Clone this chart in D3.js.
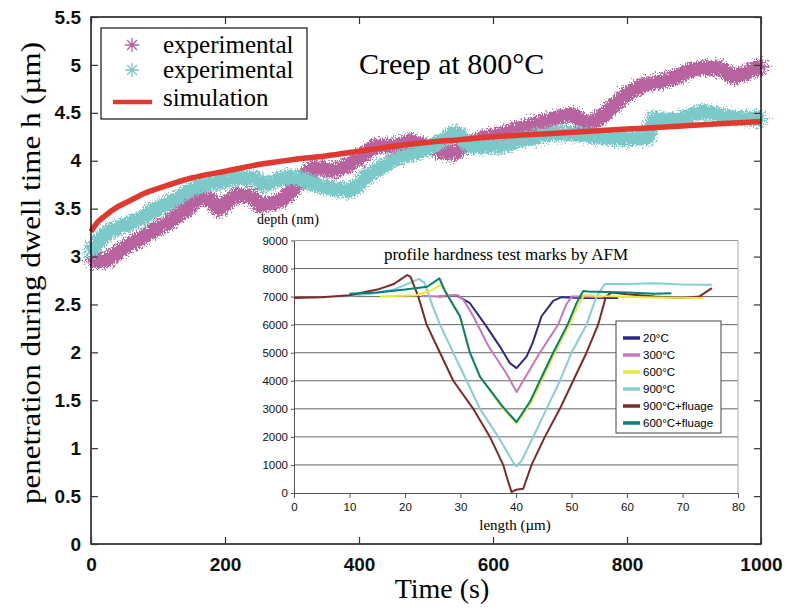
<!DOCTYPE html>
<html>
<head>
<meta charset="utf-8">
<script src="https://cdn.jsdelivr.net/npm/d3@7"></script>
<style>
  html, body { margin: 0; padding: 0; background: #fff; }
  svg { display: block; }
</style>
</head>
<body>
<svg id="chart" width="785" height="610"></svg>
<script>
// ── Main chart data (time s, penetration µm) ─────────────────────
const expMagenta = [
  [0, 2.96], [20, 2.96], [45, 3.07], [70, 3.17], [95, 3.28], [120, 3.38],
  [144, 3.50], [164, 3.61], [179, 3.59], [191, 3.50], [204, 3.57], [219, 3.64],
  [238, 3.63], [253, 3.54], [273, 3.56], [293, 3.64], [313, 3.80], [336, 3.93],
  [360, 3.90], [385, 3.96], [410, 4.08], [425, 4.15], [459, 4.16], [474, 4.20],
  [499, 4.15], [519, 4.11], [539, 4.08], [558, 4.15], [583, 4.23], [608, 4.27],
  [633, 4.32], [657, 4.37], [677, 4.41], [717, 4.48], [742, 4.39], [762, 4.46],
  [781, 4.58], [801, 4.70], [826, 4.79], [851, 4.83], [875, 4.88], [900, 4.95],
  [935, 4.97], [960, 4.88], [994, 4.97], [1000, 4.98]
];
const expCyan = [
  [0, 3.05], [21, 3.23], [45, 3.31], [70, 3.38], [95, 3.49], [120, 3.57],
  [144, 3.68], [169, 3.75], [194, 3.78], [219, 3.82], [243, 3.82], [258, 3.75],
  [293, 3.83], [318, 3.80], [340, 3.74], [360, 3.71], [385, 3.69], [410, 3.83],
  [435, 3.94], [459, 4.03], [484, 4.08], [509, 4.15], [534, 4.25], [544, 4.29],
  [568, 4.15], [608, 4.15], [633, 4.20], [667, 4.25], [702, 4.29], [752, 4.25],
  [801, 4.23], [831, 4.25], [840, 4.43], [875, 4.43], [915, 4.51], [950, 4.46],
  [994, 4.44], [1000, 4.44]
];
const simulation = [
  [0, 3.26], [10, 3.36], [20, 3.42], [40, 3.52], [60, 3.59], [80, 3.66],
  [100, 3.71], [150, 3.82], [200, 3.89], [250, 3.96], [300, 4.01], [350, 4.05],
  [400, 4.10], [450, 4.15], [500, 4.19], [550, 4.22], [600, 4.25], [650, 4.27],
  [700, 4.29], [750, 4.31], [800, 4.33], [850, 4.35], [900, 4.37], [950, 4.39],
  [1000, 4.41]
];
const mainXTicks = [0, 200, 400, 600, 800, 1000];
const mainYTicks = [0, 0.5, 1, 1.5, 2, 2.5, 3, 3.5, 4, 4.5, 5, 5.5];

// ── Inset data (length µm, depth nm) ─────────────────────────────
const prof20 = [
  [26, 7000], [29.3, 7040], [31.7, 6764], [34.7, 5931], [37.1, 5219], [38.9, 4628],
  [40.1, 4450], [41.9, 4863], [43, 5350], [44.6, 6300], [46.7, 6850], [48.2, 6980],
  [52, 6950], [58.4, 6950]
];
const prof300 = [
  [23, 7030], [26, 7000], [28, 7050], [29.6, 7040], [30.5, 6900], [32.3, 6300],
  [35, 5250], [38.3, 4250], [40.1, 3600], [41.3, 4000], [44.3, 5000], [47.6, 6000],
  [49, 6700], [50, 7000], [52, 7000], [55.7, 6980]
];
const prof600 = [
  [15.5, 7000], [22, 7050], [24.5, 7200], [26.5, 7420], [27.4, 7150], [29.9, 6300],
  [31.7, 5000], [33.5, 4150], [37.7, 3000], [40.1, 2480], [42.8, 3250], [44.6, 4000],
  [47, 5000], [49.6, 6000], [51.2, 6700], [52.3, 7050], [55, 7020], [65, 6970],
  [73.7, 6950]
];
const prof900 = [
  [8.5, 7000], [14, 7100], [18, 7250], [21, 7500], [22.5, 7630], [23.5, 7500],
  [25.1, 6600], [26.3, 6000], [28.7, 5000], [31.1, 4000], [33.5, 3000], [36.8, 2000],
  [38.6, 1400], [39.6, 1050], [40.1, 950], [41, 1150], [43.1, 2000], [45.5, 3000],
  [47.9, 4000], [50, 5000], [52.7, 6000], [54.5, 7000], [56, 7450], [60, 7450],
  [65, 7480], [70, 7430], [75.3, 7420]
];
const prof900f = [
  [0, 6950], [5, 6980], [10, 7050], [15, 7250], [18, 7450], [19.5, 7650],
  [20.4, 7770], [21, 7700], [22.4, 7000], [23.9, 6000], [26.3, 5000], [28.7, 4000],
  [32.3, 3000], [35.3, 2000], [37.7, 1000], [38.6, 400], [39.2, 30], [40, 120],
  [41.3, 150], [42.8, 1000], [45.2, 2000], [47.9, 3000], [50.3, 4000], [52.7, 5000],
  [54.8, 6000], [56.2, 7000], [57.2, 7150], [60, 7080], [65, 7000], [70, 6950],
  [73, 7000], [75.3, 7300]
];
const prof600f = [
  [10, 7100], [15, 7150], [20, 7250], [24, 7350], [26.2, 7650], [27.2, 7200],
  [29.9, 6300], [31.7, 5000], [33.5, 4150], [37.7, 3050], [40.1, 2530], [42.5, 3250],
  [44.3, 4000], [46.7, 5000], [49.3, 6000], [50.9, 6764], [52.1, 7200], [53, 7180],
  [60, 7150], [65, 7100], [68, 7120]
];
const insetXTicks = [0, 10, 20, 30, 40, 50, 60, 70, 80];
const insetYTicks = [0, 1000, 2000, 3000, 4000, 5000, 6000, 7000, 8000, 9000];

const insetSeries = [
  { label: '20°C', color: '#2b2a85', data: prof20 },
  { label: '300°C', color: '#c878b8', data: prof300 },
  { label: '600°C', color: '#ede832', data: prof600 },
  { label: '900°C', color: '#84cfd0', data: prof900 },
  { label: '900°C+fluage', color: '#7e2a28', data: prof900f },
  { label: '600°C+fluage', color: '#00817c', data: prof600f }
];
// draw order: yellow under teal
const insetDrawOrder = [0, 1, 3, 4, 2, 5];

const COLORS = { magenta: '#b864a0', cyan: '#7cc9c9', red: '#e0392f' };
const SERIF = "'Liberation Serif', 'Times New Roman', serif";
const SANS = "'Liberation Sans', Arial, sans-serif";
const NARROW = "'Liberation Sans Narrow', 'Liberation Sans', Arial, sans-serif";

const svg = d3.select('#chart');

// roughness filter for the noisy experimental bands
const defs = svg.append('defs');
const filt = defs.append('filter').attr('id', 'rough')
  .attr('filterUnits', 'userSpaceOnUse')
  .attr('x', 0).attr('y', 0).attr('width', 785).attr('height', 610);
filt.append('feTurbulence').attr('type', 'fractalNoise')
  .attr('baseFrequency', '1.1 0.5').attr('numOctaves', 2).attr('seed', 4).attr('result', 'n');
filt.append('feDisplacementMap').attr('in', 'SourceGraphic').attr('in2', 'n')
  .attr('scale', 13).attr('xChannelSelector', 'R').attr('yChannelSelector', 'G');

// asterisk marker path (8 rays)
function asterisk(r) {
  let p = '';
  for (let i = 0; i < 4; i++) {
    const a = i * Math.PI / 4;
    const dx = Math.cos(a) * r, dy = Math.sin(a) * r;
    p += `M${-dx},${-dy}L${dx},${dy}`;
  }
  return p;
}

// ── Main plot ───────────────────────────────────────────────────
const x = d3.scaleLinear().domain([0, 1000]).range([91, 761]);
const y = d3.scaleLinear().domain([0, 5.5]).range([544, 17]);

const line = d3.line().x(d => x(d[0])).y(d => y(d[1])).curve(d3.curveMonotoneX);

function drawBand(data, color) {
  const g = svg.append('g').attr('filter', 'url(#rough)');
  g.append('path').attr('d', line(data))
    .attr('fill', 'none').attr('stroke', color)
    .attr('stroke-width', 15).attr('stroke-linejoin', 'round').attr('stroke-linecap', 'butt');
  g.selectAll('path.mk').data(data).join('path').attr('class', 'mk')
    .attr('transform', d => `translate(${x(d[0])},${y(d[1])})`)
    .attr('d', asterisk(9))
    .attr('stroke', color).attr('stroke-width', 1.5).attr('fill', 'none');
}
drawBand(expMagenta, COLORS.magenta);
drawBand(expCyan, COLORS.cyan);

svg.append('path').attr('d', line(simulation))
  .attr('fill', 'none').attr('stroke', COLORS.red).attr('stroke-width', 5.5);

// frame
svg.append('rect').attr('x', 91).attr('y', 17).attr('width', 670).attr('height', 527)
  .attr('fill', 'none').attr('stroke', '#111').attr('stroke-width', 1.5);

const axB = svg.append('g').attr('transform', 'translate(0,544)')
  .call(d3.axisBottom(x).tickValues(mainXTicks).tickFormat(d3.format('d'))
    .tickSizeInner(-7).tickSizeOuter(0).tickPadding(14));
const axL = svg.append('g').attr('transform', 'translate(91,0)')
  .call(d3.axisLeft(y).tickValues(mainYTicks).tickFormat(d3.format('~g')).tickSizeInner(-7).tickSizeOuter(0).tickPadding(10));
const axT = svg.append('g').attr('transform', 'translate(0,17)')
  .call(d3.axisTop(x).tickValues(mainXTicks).tickSizeInner(-7).tickSizeOuter(0).tickFormat(''));
const axR = svg.append('g').attr('transform', 'translate(761,0)')
  .call(d3.axisRight(y).tickValues(mainYTicks).tickSizeInner(-7).tickSizeOuter(0).tickFormat(''));
[axB, axL, axT, axR].forEach(a => {
  a.select('.domain').remove();
  a.selectAll('line').attr('stroke', '#333').attr('stroke-width', 1.2);
  a.selectAll('text').attr('font-family', NARROW).attr('font-weight', 'bold')
    .attr('font-size', 19).attr('fill', '#111');
});

// axis titles
svg.append('text').attr('x', 442).attr('y', 598).attr('text-anchor', 'middle')
  .attr('font-family', SERIF).attr('font-size', 28).text('Time (s)');
svg.append('text').attr('transform', 'translate(40,273) rotate(-90)').attr('text-anchor', 'middle')
  .attr('font-family', SERIF).attr('font-size', 28)
  .attr('textLength', 462).attr('lengthAdjust', 'spacingAndGlyphs')
  .text('penetration during dwell time h (µm)');

// title
svg.append('text').attr('x', 359).attr('y', 74)
  .attr('font-family', SERIF).attr('font-size', 30).text('Creep at 800°C');

// legend
const leg = svg.append('g');
leg.append('rect').attr('x', 101).attr('y', 28).attr('width', 206).attr('height', 91)
  .attr('fill', '#fff').attr('stroke', '#111').attr('stroke-width', 1.2);
const legItems = [
  { label: 'experimental', color: COLORS.magenta, type: 'mk', ty: 53 },
  { label: 'experimental', color: COLORS.cyan, type: 'mk', ty: 78 },
  { label: 'simulation', color: COLORS.red, type: 'line', ty: 106 }
];
legItems.forEach(it => {
  if (it.type === 'mk') {
    leg.append('path').attr('transform', `translate(132,${it.ty - 8})`)
      .attr('d', asterisk(7)).attr('stroke', it.color).attr('stroke-width', 1.3).attr('fill', 'none');
    leg.append('circle').attr('cx', 132).attr('cy', it.ty - 8).attr('r', 1.6).attr('fill', it.color);
  } else {
    leg.append('line').attr('x1', 113).attr('x2', 152).attr('y1', it.ty - 4).attr('y2', it.ty - 4)
      .attr('stroke', it.color).attr('stroke-width', 4.5);
  }
  leg.append('text').attr('x', 163).attr('y', it.ty)
    .attr('font-family', SERIF).attr('font-size', 25).text(it.label);
});

// ── Inset plot ──────────────────────────────────────────────────
const ix = d3.scaleLinear().domain([0, 80]).range([294, 738]);
const iy = d3.scaleLinear().domain([0, 9000]).range([493, 240.5]);
const inset = svg.append('g');

inset.selectAll('line.grid').data(insetYTicks.filter(v => v > 0)).join('line').attr('class', 'grid')
  .attr('x1', ix(0)).attr('x2', ix(80)).attr('y1', d => iy(d)).attr('y2', d => iy(d))
  .attr('stroke', d => d === 9000 ? '#999' : '#666').attr('stroke-width', 1);
inset.append('line').attr('x1', ix(80)).attr('x2', ix(80)).attr('y1', iy(9000)).attr('y2', iy(0))
  .attr('stroke', '#aaa').attr('stroke-width', 1);

const iL = inset.append('g').attr('transform', `translate(${ix(0)},0)`)
  .call(d3.axisLeft(iy).tickValues(insetYTicks).tickFormat(d3.format('d'))
    .tickSizeInner(3).tickSizeOuter(0).tickPadding(3));
const iB = inset.append('g').attr('transform', `translate(0,${iy(0)})`)
  .call(d3.axisBottom(ix).tickValues(insetXTicks).tickSizeInner(5).tickSizeOuter(0).tickPadding(5));
[iL, iB].forEach(a => {
  a.select('.domain').attr('stroke', '#555');
  a.selectAll('line').attr('stroke', '#555');
  a.selectAll('text').attr('font-family', SANS).attr('font-size', 11.5).attr('fill', '#111');
});

const iline = d3.line().x(d => ix(d[0])).y(d => iy(d[1]));
insetDrawOrder.forEach(i => {
  const s = insetSeries[i];
  inset.append('path').attr('d', iline(s.data))
    .attr('fill', 'none').attr('stroke', s.color).attr('stroke-width', 2)
    .attr('stroke-linejoin', 'round');
});

inset.append('text').attr('x', 506).attr('y', 260).attr('text-anchor', 'middle')
  .attr('font-family', SERIF).attr('font-size', 17).text('profile hardness test marks by AFM');
inset.append('text').attr('x', 257).attr('y', 224)
  .attr('font-family', SERIF).attr('font-size', 14).text('depth (nm)');
inset.append('text').attr('x', 515).attr('y', 530).attr('text-anchor', 'middle')
  .attr('font-family', SERIF).attr('font-size', 15).text('length (µm)');

// inset legend
const il = inset.append('g');
il.append('rect').attr('x', 616).attr('y', 321).attr('width', 105).attr('height', 112)
  .attr('fill', '#fff').attr('stroke', '#444').attr('stroke-width', 1);
insetSeries.forEach((s, i) => {
  const cy = 338 + i * 17;
  il.append('line').attr('x1', 623).attr('x2', 640).attr('y1', cy).attr('y2', cy)
    .attr('stroke', s.color).attr('stroke-width', 3.5);
  il.append('text').attr('x', 643).attr('y', cy + 4)
    .attr('font-family', SANS).attr('font-size', 11.5).text(s.label);
});
</script>
</body>
</html>
